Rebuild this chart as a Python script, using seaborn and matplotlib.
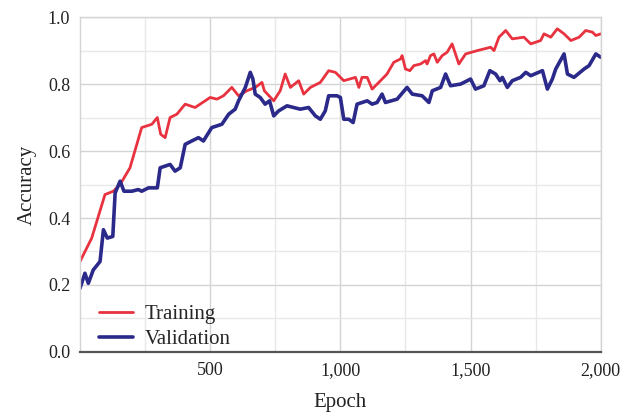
import matplotlib
matplotlib.use("Agg")
import matplotlib.pyplot as plt
import matplotlib.ticker as mtick
import seaborn as sns

# ── data ──────────────────────────────────────────────────
train_epoch = [0, 45, 96, 128, 154, 192, 237, 276, 297, 310, 327, 346, 372, 404, 442,
               500, 526, 551, 583, 609, 641, 673, 699, 708, 744, 769, 788, 808, 840,
               859, 885, 923, 955, 981, 1013, 1058, 1071, 1083, 1103, 1122, 1154,
               1179, 1205, 1231, 1237, 1250, 1267, 1282, 1308, 1327, 1333, 1346,
               1359, 1372, 1391, 1410, 1429, 1455, 1481, 1526, 1577, 1590, 1609,
               1635, 1660, 1705, 1731, 1769, 1782, 1808, 1833, 1859, 1885, 1917,
               1942, 1968, 1981, 2000]
train_acc = [0.27, 0.34, 0.47, 0.48, 0.50, 0.55, 0.67, 0.68, 0.70, 0.65, 0.64, 0.70,
             0.71, 0.74, 0.73, 0.76, 0.755, 0.765, 0.79, 0.765, 0.78, 0.79, 0.805,
             0.78, 0.75, 0.78, 0.83, 0.79, 0.81, 0.77, 0.79, 0.805, 0.84, 0.835,
             0.81, 0.82, 0.79, 0.82, 0.82, 0.785, 0.81, 0.83, 0.865, 0.875, 0.885,
             0.845, 0.84, 0.855, 0.86, 0.87, 0.86, 0.885, 0.89, 0.865, 0.885, 0.895,
             0.92, 0.86, 0.89, 0.90, 0.91, 0.90, 0.94, 0.96, 0.935, 0.94, 0.92,
             0.93, 0.95, 0.94, 0.965, 0.95, 0.93, 0.94, 0.96, 0.955, 0.945, 0.95]

val_epoch = [0, 19, 32, 51, 77, 90, 105, 126, 135, 154, 169, 199, 224, 237, 263, 297,
             308, 346, 365, 385, 404, 429, 455, 474, 506, 545, 571, 596, 609, 635,
             654, 664, 673, 692, 711, 728, 744, 763, 795, 846, 878, 904, 923, 942,
             955, 987, 1000, 1013, 1032, 1049, 1064, 1103, 1122, 1141, 1160, 1173,
             1218, 1256, 1276, 1314, 1340, 1353, 1385, 1404, 1423, 1462, 1500,
             1519, 1551, 1574, 1596, 1613, 1622, 1641, 1660, 1692, 1712, 1731,
             1776, 1795, 1814, 1827, 1859, 1872, 1897, 1936, 1955, 1981, 2000]
val_acc = [0.19, 0.235, 0.205, 0.245, 0.27, 0.365, 0.34, 0.345, 0.475, 0.51, 0.48,
           0.48, 0.485, 0.48, 0.49, 0.49, 0.55, 0.56, 0.54, 0.55, 0.62, 0.63, 0.64,
           0.63, 0.67, 0.68, 0.71, 0.725, 0.75, 0.79, 0.835, 0.815, 0.77, 0.76,
           0.74, 0.75, 0.705, 0.72, 0.735, 0.725, 0.73, 0.705, 0.695, 0.72, 0.765,
           0.765, 0.76, 0.695, 0.695, 0.685, 0.74, 0.75, 0.74, 0.745, 0.77, 0.745,
           0.755, 0.79, 0.77, 0.765, 0.745, 0.78, 0.79, 0.83, 0.795, 0.80, 0.815,
           0.785, 0.795, 0.84, 0.83, 0.81, 0.82, 0.79, 0.81, 0.82, 0.835, 0.825,
           0.84, 0.785, 0.815, 0.845, 0.89, 0.83, 0.82, 0.845, 0.855, 0.89, 0.88]

x_ticks = [500, 1000, 1500, 2000]
y_ticks = [0.0, 0.2, 0.4, 0.6, 0.8, 1.0]

RED, NAVY = "#e8323f", "#2b2a8a"

sns.set_theme(style="white")
plt.rcParams['font.family'] = ['Liberation Serif', 'DejaVu Serif']

fig = plt.figure(figsize=(6.2, 4.17), dpi=100)
ax = fig.add_axes([0.129, 0.156, 0.84, 0.803])

sns.lineplot(x=train_epoch, y=train_acc, color=RED, lw=2.0, label="Training", ax=ax)
sns.lineplot(x=val_epoch, y=val_acc, color=NAVY, lw=2.6, label="Validation", ax=ax)

ax.set_xlim(0, 2000)
ax.set_ylim(0, 1.0)
ax.set_xticks(x_ticks)
ax.set_yticks(y_ticks)
ax.set_xticks(range(250, 2000, 500), minor=True)
ax.set_yticks([0.1, 0.3, 0.5, 0.7, 0.9], minor=True)
ax.xaxis.set_major_formatter(mtick.StrMethodFormatter("{x:,.0f}"))
ax.yaxis.set_major_formatter(mtick.StrMethodFormatter("{x:.1f}"))
ax.grid(which="major", color="#d4d4d4", lw=1.0)
ax.grid(which="minor", color="#e8e8e8", lw=1.0)
ax.set_axisbelow(True)
ax.tick_params(which="both", length=0, labelsize=13, colors="#222222", pad=7)

for side in ["top", "right", "left"]:
    ax.spines[side].set_color("#d4d4d4")
    ax.spines[side].set_linewidth(1.0)
ax.spines["bottom"].set_color("#555555")
ax.spines["bottom"].set_linewidth(1.6)

ax.set_xlabel("Epoch", fontsize=15, color="#222222", labelpad=10)
ax.set_ylabel("Accuracy", fontsize=15, color="#222222", labelpad=8)

ax.legend(loc="lower left", frameon=False, fontsize=15, handlelength=1.6,
          labelspacing=0.25, borderaxespad=0.0, handletextpad=0.6,
          borderpad=0.3, bbox_to_anchor=(0.025, -0.01))

plt.savefig("out.png", dpi=100)
plt.close()
